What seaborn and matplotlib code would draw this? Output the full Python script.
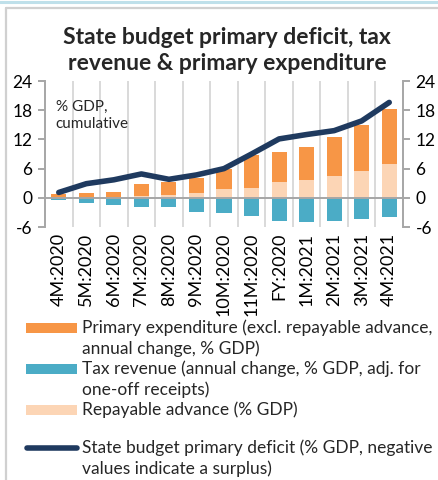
import numpy as np
import pandas as pd
import matplotlib
matplotlib.use("Agg")
import matplotlib.pyplot as plt
from matplotlib.lines import Line2D
from matplotlib.patches import Rectangle
import seaborn as sns

# Cumulative fiscal data, % of GDP
periods = ["4M:2020", "5M:2020", "6M:2020", "7M:2020", "8M:2020", "9M:2020",
           "10M:2020", "11M:2020", "FY:2020", "1M:2021", "2M:2021", "3M:2021",
           "4M:2021"]
primary_expenditure = [0.8, 1.0, 1.2, 2.4, 2.7, 3.0, 4.1, 6.7, 6.2, 6.8, 7.9, 9.4, 11.3]
repayable_advance = [0.0, 0.0, 0.0, 0.4, 0.6, 1.0, 1.8, 2.1, 3.3, 3.7, 4.5, 5.6, 7.0]
tax_revenue = [-0.4, -1.1, -1.4, -1.8, -1.8, -3.0, -3.1, -3.8, -4.7, -5.0, -4.7, -4.4, -3.9]
primary_deficit = [1.1, 2.9, 3.7, 4.9, 3.8, 4.7, 6.0, 9.0, 12.1, 13.0, 13.8, 15.8, 19.6]

y_ticks = [-6, 0, 6, 12, 18, 24]

ORANGE = "#F79646"
BLUE = "#4BACC6"
PEACH = "#FCD5B5"
NAVY = "#1F3A5F"
AXIS_GREY = "#A6A6A6"
GRID_GREY = "#D9D9D9"

sns.set_theme(style="white")
plt.rcParams["font.family"] = ["Lato", "DejaVu Sans"]
plt.rcParams["axes.unicode_minus"] = False

df = pd.DataFrame({
    "period": periods,
    "expenditure_total": np.array(primary_expenditure) + np.array(repayable_advance),
    "repayable": repayable_advance,
    "tax": tax_revenue,
    "deficit": primary_deficit,
})

W, H = 438, 480
fig = plt.figure(figsize=(W / 100, H / 100), dpi=100)
ax = fig.add_axes([45 / W, 1 - 227 / H, 358 / W, 146 / H])

bar_w = 0.55
# expenditure stacked on top of the repayable advance
sns.barplot(data=df, x="period", y="expenditure_total", color=ORANGE, width=bar_w,
            saturation=1, ax=ax, zorder=2, edgecolor="none")
sns.barplot(data=df, x="period", y="repayable", color=PEACH, width=bar_w,
            saturation=1, ax=ax, zorder=3, edgecolor="none")
sns.barplot(data=df, x="period", y="tax", color=BLUE, width=bar_w,
            saturation=1, ax=ax, zorder=2, edgecolor="none")
sns.lineplot(data=df, x="period", y="deficit", color=NAVY, linewidth=4.0,
             ax=ax, zorder=5, solid_capstyle="round", sort=False)

n = len(periods)
ax.set_xlim(-0.5, n - 0.5)
ax.set_ylim(-6, 24)
ax.set_yticks(y_ticks)
ax.set_xlabel("")
ax.set_ylabel("")

# vertical separators between periods
ax.set_xticks(np.arange(n - 1) + 0.5, minor=True)
ax.grid(which="major", visible=False)
ax.grid(which="minor", axis="x", visible=True, color=GRID_GREY, linewidth=1.4)
ax.set_axisbelow(True)
ax.axhline(0, color=AXIS_GREY, linewidth=1.4, zorder=4)

for side in ["top", "bottom"]:
    ax.spines[side].set_visible(False)
for side in ["left", "right"]:
    ax.spines[side].set_color(AXIS_GREY)
    ax.spines[side].set_linewidth(1.4)

ax.tick_params(axis="x", which="both", length=0, labelsize=13, pad=4,
               labelrotation=90, colors="black")
ax.tick_params(axis="y", which="major", direction="out", length=5, width=1.4,
               labelsize=12.5, pad=4, left=True, right=True,
               labelleft=True, labelright=True, labelcolor="black", color=AXIS_GREY)

ax.text(0.03, 0.87, "% GDP,\ncumulative", transform=ax.transAxes, fontsize=11,
        ha="left", va="top", linespacing=1.25)

# title
fig.text(227 / W, 1 - 38 / H, "State budget primary deficit, tax",
         fontsize=16.5, fontweight="bold", ha="center", va="center")
fig.text(227 / W, 1 - 63 / H, "revenue & primary expenditure",
         fontsize=16.5, fontweight="bold", ha="center", va="center")

# legend block
pitch = 20.5
legend_items = [
    ("patch", ORANGE, ["Primary expenditure (excl. repayable advance,", "annual change, % GDP)"], 328),
    ("patch", BLUE, ["Tax revenue (annual change, % GDP, adj. for", "one-off receipts)"], 369),
    ("patch", PEACH, ["Repayable advance (% GDP)"], 410),
    ("line", NAVY, ["State budget primary deficit (% GDP, negative", "values indicate a surplus)"], 448),
]
for kind, col, lines, y0 in legend_items:
    if kind == "patch":
        fig.add_artist(Rectangle((26 / W, 1 - (y0 + 5) / H), 51 / W, 10 / H,
                                 transform=fig.transFigure, color=col, lw=0))
    else:
        fig.add_artist(Line2D([27 / W, 77 / W], [1 - y0 / H, 1 - y0 / H],
                              transform=fig.transFigure, color=col, lw=4.0,
                              solid_capstyle="round"))
    for i, line in enumerate(lines):
        fig.text(82 / W, 1 - (y0 + i * pitch) / H, line, fontsize=12.5,
                 ha="left", va="center")

# outer frame
fig.add_artist(Line2D([0, 1], [1 - 2 / H, 1 - 2 / H], transform=fig.transFigure,
                      color="#BFE0EA", lw=2.2))
fig.add_artist(Line2D([5.5 / W, 1], [1 - 8 / H, 1 - 8 / H], transform=fig.transFigure,
                      color="#D0D0D0", lw=1.6))
fig.add_artist(Line2D([5.5 / W, 5.5 / W], [0, 1 - 8 / H], transform=fig.transFigure,
                      color="#D0D0D0", lw=1.6))

fig.savefig("out.png", dpi=100)
